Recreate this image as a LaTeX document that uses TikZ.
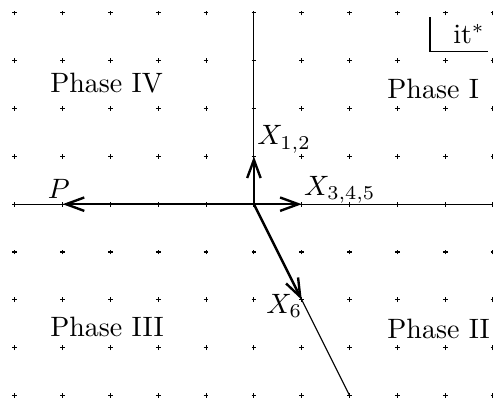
\documentclass[tikz,border=0pt]{standalone}
\usepackage{tikz}
\usetikzlibrary{arrows.meta}

\begin{document}
\begin{tikzpicture}[x=0.6cm, y=0.6cm,
    gridmark/.style={line width=0.4pt},
    axis/.style={line width=0.4pt},
    vec/.style={-{Straight Barb[length=6.5pt, width=4.8pt]}, line width=0.85pt},
    phase/.style={anchor=west, inner sep=0pt}]
  \useasboundingbox (-5.31,-4.14) rectangle (5.0,4.27);

  % grid of small crosses
  \foreach \x in {-5,...,5}
    \foreach \y in {-4,...,4}
      \draw[gridmark] (\x-0.05,\y) -- (\x+0.05,\y) (\x,\y-0.05) -- (\x,\y+0.05);

  \coordinate (o) at (0,0);
  \coordinate (left) at (-5,0);
  \coordinate (right) at (5.05,0);
  \coordinate (top) at (0,4);
  \coordinate (bot) at (2,-4);

  % axes
  \draw[axis] (left) -- (right);
  \draw[axis] (o) -- (top);
  \draw[axis] (o) -- (bot);

  % vectors
  \coordinate (x12) at (0,1);
  \coordinate (x345) at (1,0);
  \coordinate (p) at (-4,0);
  \coordinate (x6) at (1,-2);
  \draw[vec] (o) -- (x12);
  \draw[vec] (o) -- (x345);
  \draw[vec] (o) -- (p);
  \draw[vec] (o) -- (x6);

  \node[anchor=south west, inner sep=1pt] (lx12) at (x12) {$X_{1,2}$};
  \node[anchor=south west, inner sep=1pt] (lx345) at (0.98,-0.05) {$X_{3,4,5}$};
  \node[anchor=south, inner sep=2pt] (lp) at (-4.08,0) {$P$};
  \node[anchor=east, inner sep=0pt] (lx6) at (1.02,-2.12) {$X_6$};

  % phases
  \node[phase] (ph1) at (2.78,2.4) {Phase I};
  \node[phase] (ph2) at (2.78,-2.6) {Phase II};
  \node[phase] (ph3) at (-4.27,-2.57) {Phase III};
  \node[phase] (ph4) at (-4.27,2.54) {Phase IV};

  % corner label
  \node[anchor=south east, minimum height=0.41cm, inner xsep=1pt, inner ysep=0pt] (itbox) at (4.9,3.2) {it$^*$};
  \draw[axis] ([xshift=-0.25cm]itbox.north west) |- (itbox.south east);
\end{tikzpicture}
\end{document}
